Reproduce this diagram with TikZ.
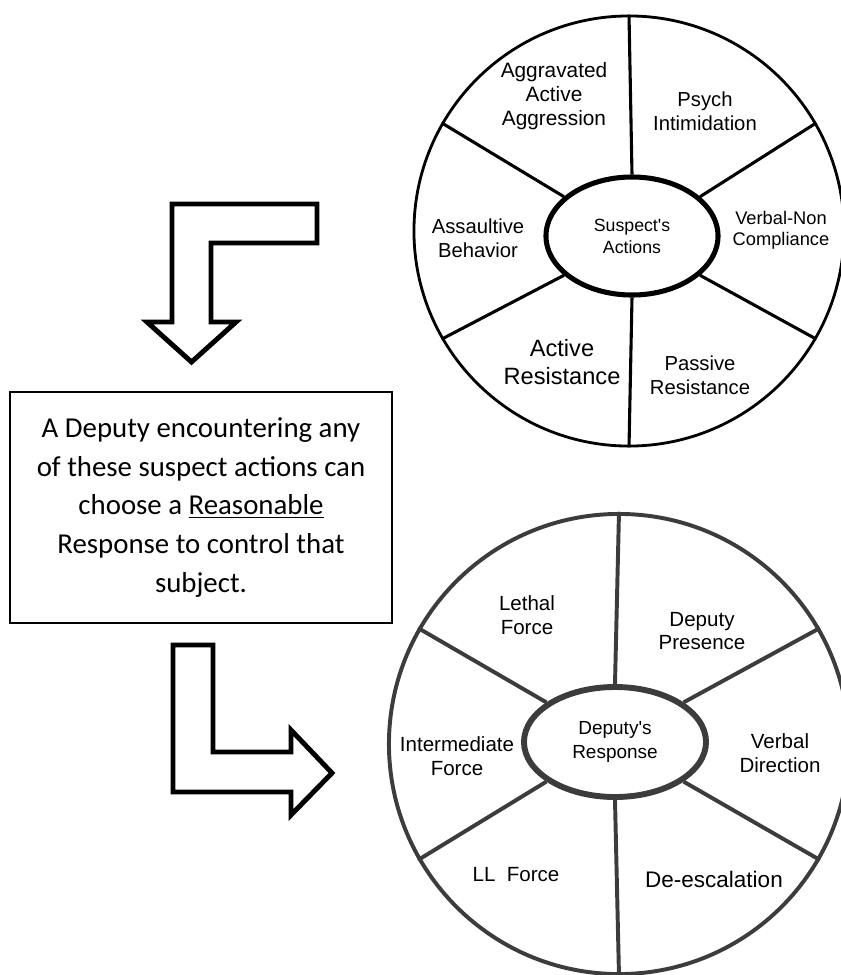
\documentclass[tikz,border=0pt]{standalone}
\usepackage{fontspec}
\setmainfont{Liberation Sans}
\newfontfamily\boxfont{Carlito}
\usetikzlibrary{shapes.geometric,calc}
\definecolor{wheelgray}{HTML}{3C3C3C}
\tikzset{
	wheel/.style={draw,circle,inner sep=0pt},
	hub/.style={draw,ellipse,inner sep=0pt,align=center},
	spoke/.style={line width=2.2pt},
	sector/.style={align=center,inner sep=0pt},
	bigarrow/.style={line width=3.5pt,line join=miter},
}
\begin{document}
\begin{tikzpicture}[x=0.025cm,y=-0.025cm]
		\useasboundingbox (0,0) rectangle (841,975);
		% suspect's actions wheel
		\node[wheel,line width=2pt,minimum size=10.75cm] (tc) at (629,231) {};
		\node[hub,line width=3.6pt,minimum width=4.3cm,minimum height=2.95cm,
			font=\fontsize{12.6}{15.6}\selectfont] (te) at (632,236) {Suspect\textquotesingle s\\Actions};
		\foreach \a in {30,90,150,210,270,330}
			\draw[spoke] (tc.\a) -- (te.\a);
		\node[sector,font=\fontsize{14.8}{17}\selectfont] (aaa) at (554,96) {Aggravated\\Active\\Aggression};
		\node[sector,font=\fontsize{14.4}{17}\selectfont] (pi) at (705,111) {Psych\\Intimidation};
		\node[sector,font=\fontsize{13}{15}\selectfont] (vnc) at (781,230) {Verbal-Non\\Compliance};
		\node[sector,font=\fontsize{14.4}{17}\selectfont] (ab) at (478,238) {Assaultive\\Behavior};
		\node[sector,font=\fontsize{16.8}{20}\selectfont] (ar) at (562,362) {Active\\Resistance};
		\node[sector,font=\fontsize{14.4}{17}\selectfont] (pr) at (700,375) {Passive\\Resistance};
		%
		% deputy's response wheel
		\node[wheel,draw=wheelgray,line width=2.8pt,minimum size=11.5cm] (bc) at (619,744) {};
		\node[hub,draw=wheelgray,line width=4.2pt,minimum width=4.55cm,minimum height=2.75cm,
			font=\fontsize{13.5}{17.5}\selectfont] (be) at (615,742) {Deputy\textquotesingle s\\Response};
		\foreach \a in {30,90,150,210,270,330}
			\draw[spoke,wheelgray,line width=2.8pt] (bc.\a) -- (be.\a);
		\node[sector,font=\fontsize{14.6}{17}\selectfont] (lf) at (527,615) {Lethal\\Force};
		\node[sector,font=\fontsize{14.6}{17}\selectfont] (dp) at (702,631) {Deputy\\Presence};
		\node[sector,font=\fontsize{14.6}{17}\selectfont] (vd) at (780,753) {Verbal\\Direction};
		\node[sector,font=\fontsize{14.6}{17}\selectfont] (imf) at (457,756) {Intermediate\\Force};
		\node[sector,font=\fontsize{14.6}{17}\selectfont] (llf) at (516,875) {LL\ \ Force};
		\node[sector,font=\fontsize{16}{19}\selectfont] (de) at (714,879) {De-escalation};
		%
		% text box
		\node[draw,line width=1pt,minimum width=9.55cm,minimum height=5.78cm,align=center,
			font=\boxfont\fontsize{20.5}{27.7}\selectfont] (msg) at (201,507.5)
			{A Deputy encountering any\\of these suspect actions can\\choose a \underline{Reasonable}\\Response to control that\\subject.};
		%
		% block arrows
		\draw[bigarrow] (172,204) -- (317,204) -- (317,243) -- (211,243) -- (211,322)
			-- (236,322) -- (191.5,362) -- (147,322) -- (172,322) -- cycle;
		\draw[bigarrow] (173,645) -- (213,645) -- (213,752) -- (291,752) -- (291,730)
			-- (332,773) -- (291,815) -- (291,792) -- (173,792) -- cycle;
	\end{tikzpicture}
\end{document}
